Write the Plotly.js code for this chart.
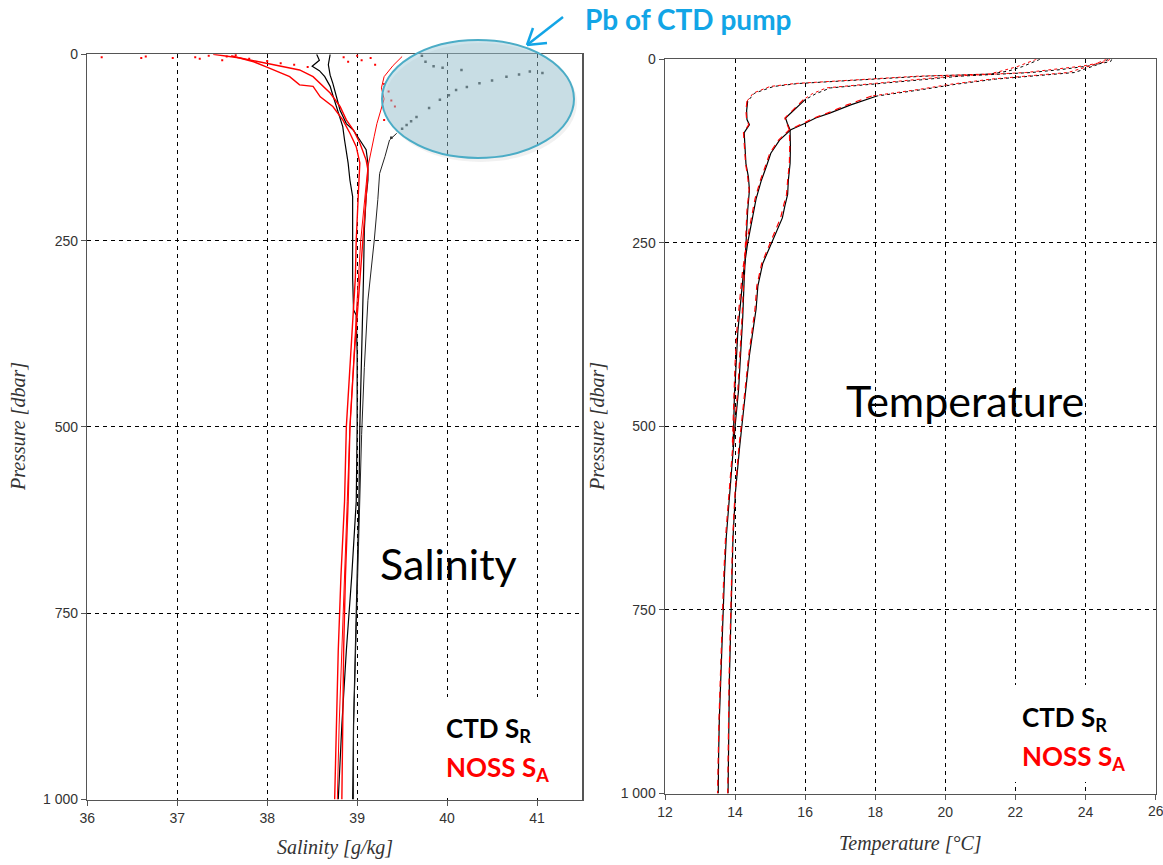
<!DOCTYPE html>
<html><head><meta charset="utf-8">
<script src="https://cdn.plot.ly/plotly-3.0.1.min.js"></script>
<style>html,body{margin:0;padding:0;background:#fff}</style>
</head><body><div id="chart" style="width:1163px;height:865px"></div>
<script>
// ---------- Salinity (left panel) ----------
const salTickVals = [36, 37, 38, 39, 40, 41];
const presTickVals = [0, 250, 500, 750, 1000];
const presTickText = ['0', '250', '500', '750', '1 000'];

// CTD S_R profiles (black)
const ctd1P = [0, 8, 16, 22, 30, 43, 55, 70, 85, 97, 115, 130, 146, 169, 191, 220, 250, 300, 343, 350, 400, 450, 500, 600, 700, 800, 900, 1000];
const ctd1S = [38.55, 38.58, 38.5, 38.58, 38.64, 38.7, 38.73, 38.77, 38.81, 38.84, 38.86, 38.88, 38.9, 38.92, 38.95, 38.95, 38.95, 38.95, 38.96, 38.99, 39.0, 39.0, 39.0, 38.99, 38.94, 38.88, 38.83, 38.79];
const ctd2P = [0, 14, 28, 39, 57, 75, 93, 102, 115, 128, 146, 169, 191, 236, 303, 400, 500, 600, 700, 800, 900, 1000];
const ctd2S = [38.7, 38.68, 38.7, 38.73, 38.77, 38.81, 38.88, 38.96, 39.03, 39.1, 39.12, 39.12, 39.1, 39.08, 39.07, 39.05, 39.03, 39.02, 39.0, 38.98, 38.96, 38.95];
const ctd3P = [106, 115, 137, 160, 195, 250, 330, 420, 510, 600, 700, 800, 900, 1000];
const ctd3S = [39.44, 39.36, 39.31, 39.25, 39.23, 39.19, 39.12, 39.08, 39.05, 39.03, 39.0, 38.98, 38.96, 38.96];
// CTD pump problem: scattered points
const pumpS = [39.72, 39.76, 39.85, 39.95, 40.16, 39.55, 39.66, 39.8, 39.92, 40.02, 40.1, 40.22, 40.36, 40.5, 40.66, 40.8, 40.92, 41.06, 39.5, 39.6, 39.38];
const pumpP = [2, 10, 16, 18, 21, 95, 84, 72, 61, 55, 48, 44, 39, 35, 30, 27, 23, 25, 100, 90, 112];

// NOSS S_A profiles (red)
const noss1P = [0, 5, 12, 21, 30, 39, 52, 70, 88, 102, 119, 142, 155, 175, 191, 236, 303, 400, 500, 600, 700, 800, 900, 1000];
const noss1S = [37.4, 37.7, 37.99, 38.36, 38.51, 38.59, 38.70, 38.81, 38.88, 38.96, 39.03, 39.1, 39.12, 39.11, 39.1, 39.07, 39.03, 38.97, 38.92, 38.9, 38.87, 38.85, 38.84, 38.83];
const noss2P = [2, 10, 17, 30, 41, 43, 57, 70, 88, 106, 124, 146, 170, 191, 249, 300, 400, 500, 600, 700, 800, 900, 1000];
const noss2S = [37.6, 37.85, 37.99, 38.25, 38.36, 38.51, 38.59, 38.73, 38.84, 38.92, 38.99, 39.03, 39.02, 39.01, 38.99, 38.98, 38.93, 38.88, 38.86, 38.82, 38.79, 38.77, 38.75];
const noss3P = [3, 15, 30, 45, 60, 75, 93, 110, 128, 151, 175, 200, 250, 330, 420, 500, 600, 700, 800, 900, 1000];
const noss3S = [39.5, 39.4, 39.3, 39.27, 39.3, 39.26, 39.22, 39.19, 39.16, 39.12, 39.1, 39.08, 39.04, 39.0, 38.96, 38.92, 38.89, 38.86, 38.83, 38.8, 38.78];
// NOSS surface scatter
const nossSurfS = [36.16, 36.6, 36.65, 36.95, 37.2, 37.25, 37.35, 37.5, 37.55, 37.65, 37.8, 38.0, 38.15, 38.3, 38.45, 38.85, 38.9, 39.0, 39.05, 39.15, 39.2, 39.3, 39.35, 39.38, 39.42, 39.3];
const nossSurfP = [4, 5, 3, 5, 4, 6, 2, 8, 3, 1, 6, 9, 12, 14, 17, 4, 10, 2, 8, 5, 14, 40, 50, 62, 70, 88];

// ---------- Temperature (right panel) ----------
const tempTickVals = [12, 14, 16, 18, 20, 22, 24, 26];
const tempAP = [0, 4, 10, 16, 20, 23, 27, 30, 33, 37, 46, 57, 70, 82, 89, 100, 120, 142, 160, 178, 206, 250, 300, 350, 400, 450, 500, 550, 600, 650, 700, 750, 800, 850, 900, 950, 1000];
const ctdTA = [22.7, 22.5, 22.2, 21.8, 21.3, 19.4, 17.95, 16.72, 15.8, 15.1, 14.56, 14.36, 14.33, 14.34, 14.41, 14.26, 14.28, 14.31, 14.38, 14.41, 14.36, 14.31, 14.26, 14.22, 14.17, 14.1, 14.0, 13.92, 13.83, 13.75, 13.7, 13.66, 13.63, 13.6, 13.55, 13.53, 13.52];
const nossTA = [22.6, 22.4, 22.05, 21.6, 21.25, 19.2, 17.8, 16.6, 15.7, 15.0, 14.52, 14.34, 14.31, 14.33, 14.39, 14.24, 14.27, 14.3, 14.36, 14.4, 14.34, 14.29, 14.25, 14.2, 14.15, 14.08, 13.98, 13.9, 13.81, 13.73, 13.68, 13.64, 13.61, 13.58, 13.54, 13.52, 13.5];
const tempBP = [0, 3, 9, 14, 18, 23, 28, 32, 39, 47, 55, 64, 73, 80, 87, 96, 120, 142, 165, 184, 200, 216, 247, 278, 309, 340, 403, 465, 528, 590, 653, 746, 840, 920, 1000];
const ctdTB = [24.75, 24.72, 24.1, 23.3, 22.46, 20.41, 19.3, 18.36, 16.72, 16.3, 16.0, 15.8, 15.59, 15.44, 15.49, 15.57, 15.58, 15.57, 15.52, 15.5, 15.42, 15.35, 15.07, 14.79, 14.65, 14.6, 14.41, 14.27, 14.13, 14.01, 13.94, 13.89, 13.84, 13.82, 13.8];
const nossTB = [24.7, 24.6, 23.95, 23.1, 22.3, 20.2, 19.1, 18.2, 16.6, 16.2, 15.95, 15.75, 15.55, 15.42, 15.47, 15.55, 15.56, 15.55, 15.5, 15.47, 15.38, 15.3, 15.03, 14.76, 14.62, 14.57, 14.39, 14.25, 14.11, 14.0, 13.93, 13.88, 13.83, 13.81, 13.79];
const tempCP = [0, 4, 8, 13, 18, 27, 34, 41, 50, 62, 73, 80, 87, 96, 110, 128, 145, 165, 190, 215, 250, 290, 330, 370, 415, 460, 500, 528];
const ctdTC = [24.65, 24.5, 24.3, 24.0, 23.69, 21.44, 20.3, 19.38, 18.05, 17.3, 16.72, 16.3, 16.0, 15.59, 15.27, 15.02, 14.9, 14.75, 14.6, 14.5, 14.36, 14.24, 14.15, 14.08, 14.03, 13.98, 13.96, 13.94];
const nossTC = [24.6, 24.4, 24.2, 23.85, 23.5, 21.3, 20.15, 19.25, 17.9, 17.2, 16.65, 16.25, 15.95, 15.55, 15.24, 14.99, 14.87, 14.72, 14.57, 14.47, 14.33, 14.21, 14.12, 14.05, 14.0, 13.96, 13.94, 13.92];
const thermoclineLimit = 60; // dbar: upper part recorded as sparse points

// ---------- build ----------
const W = 1163, H = 865;
const px = x => x / W, py = y => 1 - y / H;
const BLACK = '#000000', RED = '#ff0000';

function line(x, y, color, xa, ya, width, dash) {
  return {type: 'scatter', mode: 'lines', x: x, y: y, xaxis: xa, yaxis: ya, cliponaxis: true,
    line: {color: color, width: width || 1.2, dash: dash || 'solid'}, hoverinfo: 'skip'};
}
function dots(x, y, color, xa, ya, size) {
  return {type: 'scatter', mode: 'markers', x: x, y: y, xaxis: xa, yaxis: ya,
    marker: {color: color, size: size || 2.5, symbol: 'square'}, hoverinfo: 'skip'};
}
function tempProfile(P, T, color, dash) {
  let last = 0;
  P.forEach((p, i) => { if (p <= thermoclineLimit) last = i; });
  const upT = T.slice(0, last + 1), upP = P.slice(0, last + 1);
  const loT = T.slice(last), loP = P.slice(last);
  return [line(upT, upP, color, 'x2', 'y2', 1, 'dot'), line(loT, loP, color, 'x2', 'y2', 1.2, dash)];
}

const traces = [
  line(ctd1S, ctd1P, BLACK, 'x', 'y'),
  line(ctd2S, ctd2P, BLACK, 'x', 'y'),
  line(ctd3S, ctd3P, '#222', 'x', 'y', 1),
  dots(pumpS, pumpP, '#333', 'x', 'y', 2.5),
  line(noss1S, noss1P, RED, 'x', 'y', 1.4),
  line(noss2S, noss2P, RED, 'x', 'y', 1.4),
  line(noss3S, noss3P, RED, 'x', 'y', 1),
  dots(nossSurfS, nossSurfP, RED, 'x', 'y', 2),
  ...tempProfile(tempAP, ctdTA, BLACK, 'solid'),
  ...tempProfile(tempBP, ctdTB, BLACK, 'solid'),
  ...tempProfile(tempCP, ctdTC, BLACK, 'solid'),
  ...tempProfile(tempAP, nossTA, RED, '6px,5px'),
  ...tempProfile(tempBP, nossTB, RED, '6px,5px'),
  ...tempProfile(tempCP, nossTC, RED, '6px,5px')
];

const tickFont = {family: 'Liberation Sans, Arial, sans-serif', size: 14, color: '#333'};
const axCommon = {
  showgrid: true, gridcolor: '#000', gridwidth: 1, griddash: '4px,4px',
  showline: true, mirror: true, linecolor: '#555', linewidth: 1.5,
  ticks: 'outside', ticklen: 5, tickcolor: '#555', tickwidth: 1,
  zeroline: false, tickfont: tickFont, fixedrange: true
};

const titleFont = {family: 'Liberation Serif, DejaVu Serif, serif', size: 20, color: '#333'};
const bigFont = {family: 'Lato, Open Sans, sans-serif', size: 43, color: '#000'};
const legFont = {family: 'Lato, Open Sans, sans-serif', size: 26, color: '#000'};

const annotations = [
  {xref: 'paper', yref: 'paper', x: px(335), y: py(847), text: '<i>Salinity [g/kg]</i>', showarrow: false, font: titleFont, xanchor: 'center', yanchor: 'middle'},
  {xref: 'paper', yref: 'paper', x: px(910), y: py(843), text: '<i>Temperature [°C]</i>', showarrow: false, font: titleFont, xanchor: 'center', yanchor: 'middle'},
  {xref: 'paper', yref: 'paper', x: px(18), y: py(427), text: '<i>Pressure [dbar]</i>', textangle: -90, showarrow: false, font: titleFont, xanchor: 'center', yanchor: 'middle'},
  {xref: 'paper', yref: 'paper', x: px(597), y: py(427), text: '<i>Pressure [dbar]</i>', textangle: -90, showarrow: false, font: titleFont, xanchor: 'center', yanchor: 'middle'},
  {xref: 'paper', yref: 'paper', x: px(448), y: py(563), text: 'Salinity', showarrow: false, font: bigFont, xanchor: 'center', yanchor: 'middle'},
  {xref: 'paper', yref: 'paper', x: px(965), y: py(400), text: 'Temperature', showarrow: false, font: bigFont, xanchor: 'center', yanchor: 'middle'},
  {xref: 'paper', yref: 'paper', x: px(444), y: py(729), text: '<b>CTD S<sub>R</sub></b>', showarrow: false, font: legFont, xanchor: 'left', yanchor: 'middle'},
  {xref: 'paper', yref: 'paper', x: px(444), y: py(768), text: '<b>NOSS S<sub>A</sub></b>', showarrow: false, font: Object.assign({}, legFont, {color: RED}), xanchor: 'left', yanchor: 'middle'},
  {xref: 'paper', yref: 'paper', x: px(1020), y: py(718), text: '<b>CTD S<sub>R</sub></b>', showarrow: false, font: legFont, xanchor: 'left', yanchor: 'middle'},
  {xref: 'paper', yref: 'paper', x: px(1020), y: py(757), text: '<b>NOSS S<sub>A</sub></b>', showarrow: false, font: Object.assign({}, legFont, {color: RED}), xanchor: 'left', yanchor: 'middle'},
  {xref: 'paper', yref: 'paper', x: px(583), y: py(19), text: '<b>Pb of CTD pump</b>', showarrow: false, font: {family: 'Lato, Open Sans, sans-serif', size: 28, color: '#12a5e6'}, xanchor: 'left', yanchor: 'middle'},
  // edge tick label of the temperature axis (partly beyond the page like in the reference)
  {xref: 'x2', yref: 'paper', x: tempTickVals[tempTickVals.length - 1], y: py(811), text: String(tempTickVals[tempTickVals.length - 1]), showarrow: false, font: tickFont, xanchor: 'center', yanchor: 'middle'}
];

const blue = '#12a5e6';
const shapes = [
  {type: 'rect', xref: 'paper', yref: 'paper', x0: px(430), x1: px(576), y0: py(697), y1: py(794), fillcolor: '#fff', line: {width: 0}, layer: 'above'},
  {type: 'rect', xref: 'paper', yref: 'paper', x0: px(1005), x1: px(1150), y0: py(685), y1: py(782), fillcolor: '#fff', line: {width: 0}, layer: 'above'},
  {type: 'circle', xref: 'paper', yref: 'paper', x0: px(384), x1: px(577), y0: py(43), y1: py(162), fillcolor: 'rgba(120,120,120,0.10)', line: {width: 0}, layer: 'above'},
  {type: 'circle', xref: 'paper', yref: 'paper', x0: px(382), x1: px(574), y0: py(40), y1: py(158), fillcolor: 'rgba(151,197,213,0.45)', line: {color: '#4bacc6', width: 2}, layer: 'above'},
  {type: 'line', xref: 'paper', yref: 'paper', x0: px(527), y0: py(45), x1: px(563), y1: py(17), line: {color: blue, width: 2.5}, layer: 'above'},
  {type: 'line', xref: 'paper', yref: 'paper', x0: px(527), y0: py(45), x1: px(547), y1: py(43), line: {color: blue, width: 2.5}, layer: 'above'},
  {type: 'line', xref: 'paper', yref: 'paper', x0: px(527), y0: py(45), x1: px(533), y1: py(28), line: {color: blue, width: 2.5}, layer: 'above'}
];

const layout = {
  width: W, height: H, margin: {l: 0, r: 0, t: 0, b: 0},
  paper_bgcolor: '#fff', plot_bgcolor: '#fff', showlegend: false,
  xaxis: Object.assign({}, axCommon, {domain: [px(87.3), px(582)], range: [36, 41.5], tickvals: salTickVals, anchor: 'y'}),
  yaxis: Object.assign({}, axCommon, {domain: [py(799.5), py(54.3)], range: [1000, 0], tickvals: presTickVals, ticktext: presTickText, anchor: 'x'}),
  xaxis2: Object.assign({}, axCommon, {domain: [px(665), px(1155.5)], range: [12, 26], tickvals: tempTickVals, anchor: 'y2'}),
  yaxis2: Object.assign({}, axCommon, {domain: [py(793.5), py(59.3)], range: [1000, 0], tickvals: presTickVals, ticktext: presTickText, anchor: 'x2'}),
  annotations: annotations, shapes: shapes
};

Plotly.newPlot('chart', traces, layout, {staticPlot: true, displayModeBar: false});
</script></body></html>
